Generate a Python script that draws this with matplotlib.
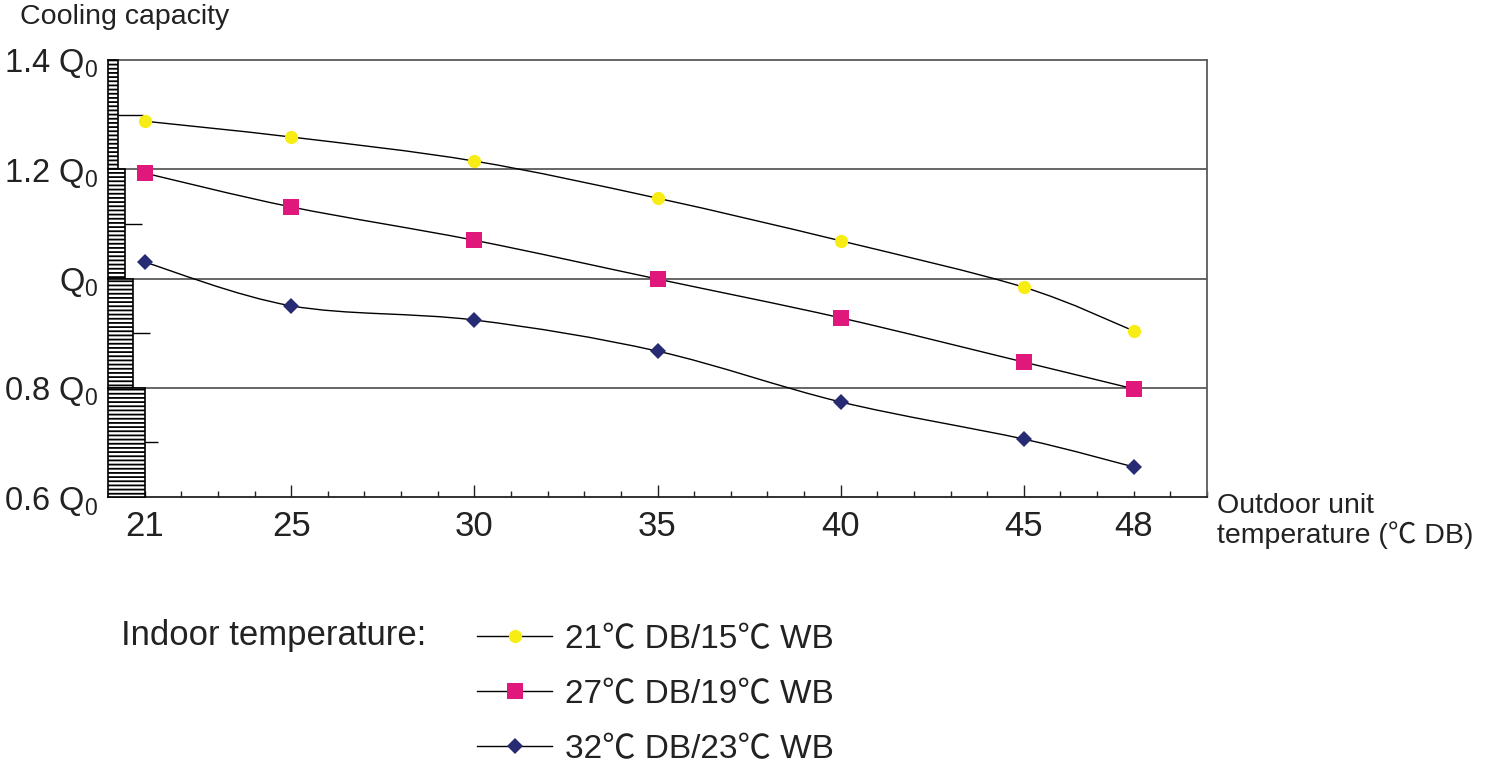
import matplotlib
matplotlib.use('Agg')
import matplotlib.pyplot as plt
import numpy as np
from matplotlib.lines import Line2D
from matplotlib.patches import PathPatch, Rectangle
from matplotlib.path import Path
from matplotlib.ticker import MultipleLocator

plt.rcParams['font.family'] = ['Liberation Sans', 'Noto Sans CJK SC', 'DejaVu Sans']
plt.rcParams['mathtext.fontset'] = 'custom'
plt.rcParams['mathtext.rm'] = 'Liberation Sans'
plt.rcParams['mathtext.it'] = 'Liberation Sans'
plt.rcParams['hatch.linewidth'] = 1.3

# data
outdoor_temp = [21, 25, 30, 35, 40, 45, 48]
cap_21_15 = [1.288, 1.259, 1.215, 1.147, 1.069, 0.984, 0.904]
cap_27_19 = [1.193, 1.131, 1.070, 0.999, 0.928, 0.847, 0.798]
cap_32_23 = [1.030, 0.950, 0.924, 0.867, 0.774, 0.706, 0.655]
series_labels = ['21℃ DB/15℃ WB', '27℃ DB/19℃ WB', '32℃ DB/23℃ WB']
y_ticks = [0.6, 0.8, 1.0, 1.2, 1.4]
y_tick_labels = [r'0.6 Q$_{\mathrm{0}}$', r'0.8 Q$_{\mathrm{0}}$', r'Q$_{\mathrm{0}}$',
                 r'1.2 Q$_{\mathrm{0}}$', r'1.4 Q$_{\mathrm{0}}$']
x_ticks = [21, 25, 30, 35, 40, 45, 48]

styles = [
    dict(marker='o', color='#F7EC13', ms=9.5),
    dict(marker='s', color='#E0187B', ms=11),
    dict(marker='D', color='#262B73', ms=8.5),
]


def smooth_path(xs, ys):
    # Catmull-Rom style cubic segments through the points
    pts = np.column_stack([xs, ys]).astype(float)
    n = len(pts)
    verts = [pts[0]]
    codes = [Path.MOVETO]
    for i in range(n - 1):
        p0 = pts[max(i - 1, 0)]
        p1 = pts[i]
        p2 = pts[i + 1]
        p3 = pts[min(i + 2, n - 1)]
        verts += [p1 + (p2 - p0) / 6, p2 - (p3 - p1) / 6, p2]
        codes += [Path.CURVE4] * 3
    return Path(verts, codes)


fig = plt.figure(figsize=(14.93, 7.67), dpi=100)
ax = fig.add_axes([108 / 1493, 1 - 497 / 767, 1099 / 1493, 437 / 767])
ax.set_xlim(20, 50)
ax.set_ylim(0.6, 1.4)

# stepped hatched band on the left edge
steps = [(1.2, 0.27), (1.0, 0.46), (0.8, 0.68), (0.6, 1.0)]
for y0, w in steps:
    ax.add_patch(Rectangle((20, y0), w, 0.2, facecolor='white', edgecolor='black',
                           hatch='----', lw=1.2, zorder=3, clip_on=False))

# horizontal reference lines starting at the step edges
for y, (_, w) in zip([1.2, 1.0, 0.8], steps[:3]):
    ax.hlines(y, 20 + w, 50, color='#5a5a5a', lw=1.3, zorder=1)
for y, x0, x1 in [(1.3, 20.27, 20.95), (1.1, 20.46, 20.93), (0.9, 20.68, 21.15), (0.7, 21.0, 21.36)]:
    ax.hlines(y, x0, x1, color='black', lw=1.0, zorder=4)

handles = []
for ys, st, lab in zip([cap_21_15, cap_27_19, cap_32_23], styles, series_labels):
    ax.add_patch(PathPatch(smooth_path(outdoor_temp, ys), fill=False, edgecolor='black',
                           lw=1.0, zorder=4))
    ax.plot(outdoor_temp, ys, linestyle='none', marker=st['marker'], color=st['color'],
            ms=st['ms'], markeredgewidth=0, zorder=5)
    handles.append(Line2D([0], [0], color='black', lw=1.0, marker=st['marker'],
                          markerfacecolor=st['color'], markeredgewidth=0, ms=st['ms']))

for side in ['top', 'right']:
    ax.spines[side].set_color('#5a5a5a')
    ax.spines[side].set_linewidth(1.3)
ax.spines['bottom'].set_color('#222222')
ax.spines['bottom'].set_linewidth(1.3)
ax.spines['left'].set_visible(False)

ax.set_xticks(x_ticks)
ax.set_xticklabels([str(t) for t in x_ticks], fontsize=25, color='#222222')
ax.xaxis.set_minor_locator(MultipleLocator(1))
ax.tick_params(axis='x', which='major', direction='in', length=9, width=1.0, pad=9, color='#222222')
ax.tick_params(axis='x', which='minor', direction='in', length=4, width=1.0, color='#222222')
for t in ax.xaxis.get_major_ticks():
    if t.get_loc() in (21, 48):
        t.tick1line.set_markersize(4)

ax.set_yticks(y_ticks)
ax.set_yticklabels(y_tick_labels, fontsize=23.5, color='#222222')
ax.tick_params(axis='y', length=0, pad=7)

fig.text(20 / 1493, 1 - 17 / 767, 'Cooling capacity', fontsize=20.5, color='#222222',
         ha='left', va='center')
fig.text(1217 / 1493, 1 - 521 / 767, 'Outdoor unit\ntemperature (℃ DB)', fontsize=20.5,
         color='#222222', ha='left', va='center', linespacing=1.15)

fig.text(121 / 1493, 1 - 635 / 767, 'Indoor temperature:', fontsize=25, color='#222222',
         ha='left', va='center')
fig.legend(handles, series_labels, loc='upper left', bbox_to_anchor=(477 / 1493, 1 - 624 / 767),
           frameon=False, fontsize=24, handlelength=2.25, handletextpad=0.4,
           labelspacing=0.72, borderpad=0, borderaxespad=0, labelcolor='#222222')

fig.savefig('out.png', dpi=100)
